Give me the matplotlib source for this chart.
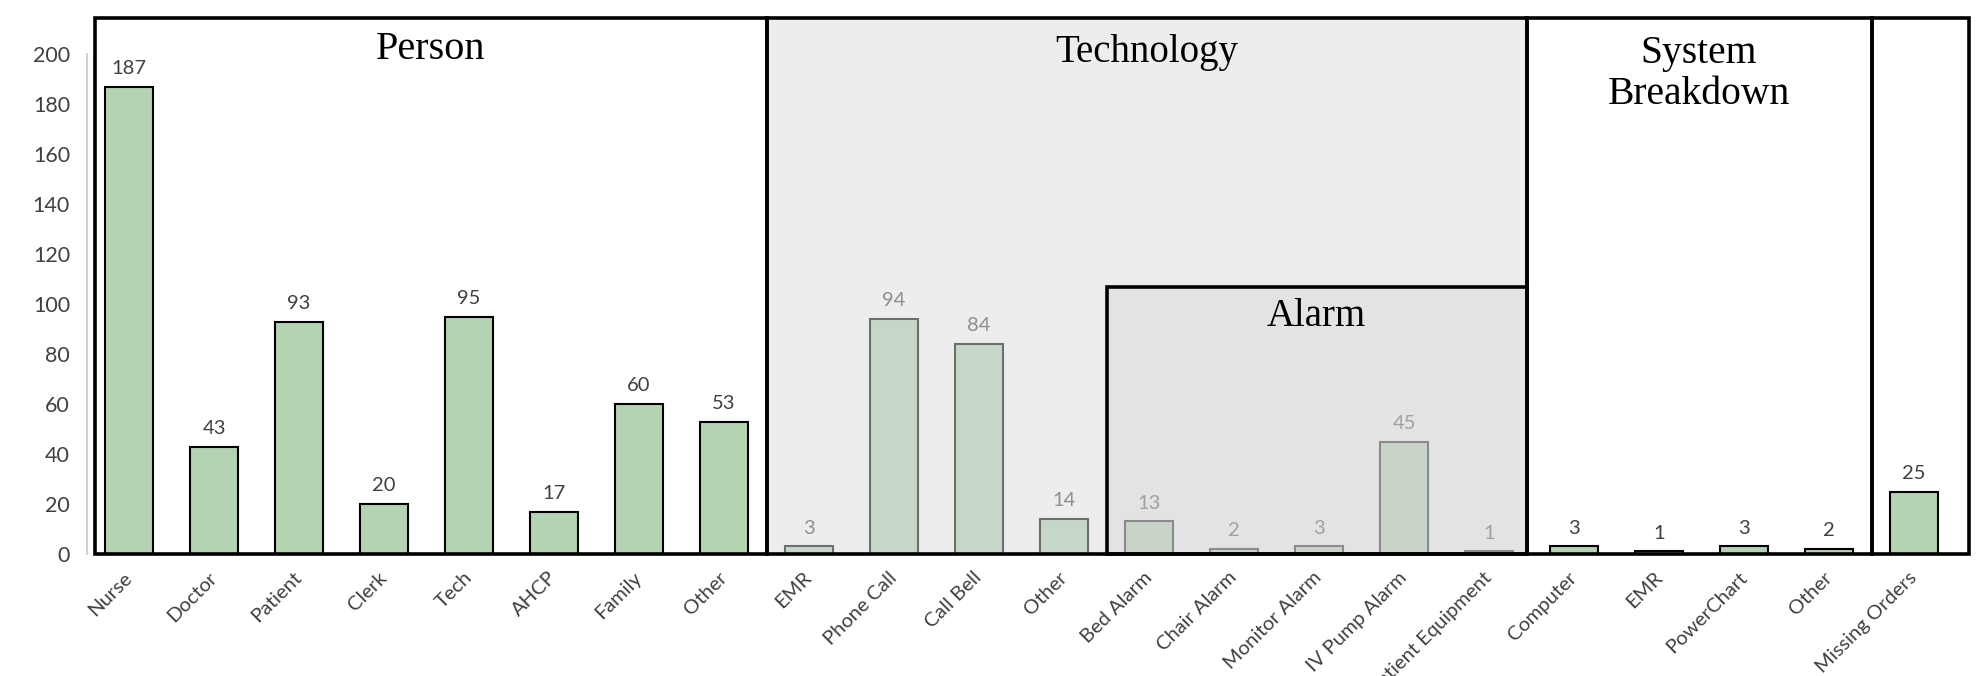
import matplotlib
matplotlib.use("Agg")
import matplotlib.pyplot as plt
from matplotlib.patches import Rectangle

# categories, grouped
person = ["Nurse", "Doctor", "Patient", "Clerk", "Tech", "AHCP", "Family", "Other"]
person_vals = [187, 43, 93, 20, 95, 17, 60, 53]
technology = ["EMR", "Phone Call", "Call Bell", "Other"]
technology_vals = [3, 94, 84, 14]
alarm = ["Bed Alarm", "Chair Alarm", "Monitor Alarm", "IV Pump Alarm", "Patient Equipment"]
alarm_vals = [13, 2, 3, 45, 1]
system = ["Computer", "EMR", "PowerChart", "Other"]
system_vals = [3, 1, 3, 2]
missing = ["Missing Orders"]
missing_vals = [25]

labels = person + technology + alarm + system + missing
values = person_vals + technology_vals + alarm_vals + system_vals + missing_vals

SANS = ["Lato", "DejaVu Sans"]
SERIF = ["Liberation Serif", "DejaVu Serif"]
TXT = "#404040"

fig = plt.figure(figsize=(19.84, 6.76), dpi=100)
ax = fig.add_axes([0.04365, 0.1805, 0.9490, 0.7929])

x = list(range(len(values)))
ax.bar(x, values, width=0.57, color="#b3d3b3", edgecolor="black", linewidth=1.5, zorder=2)
for xi, v in zip(x, values):
    ax.annotate(f"{v}", (xi, v), xytext=(0, 7), textcoords="offset points",
                ha="center", va="bottom", fontsize=14.5, color=TXT,
                family=SANS, zorder=2.5)

ax.set_xlim(-0.5, 21.65)
ax.set_ylim(0, 214.5)
ax.set_yticks(range(0, 201, 20))
ax.tick_params(axis="y", length=0, labelsize=15.5, labelcolor=TXT, pad=12)
ax.tick_params(axis="x", length=0, pad=15)
ax.set_xticks(x)
ax.set_xticklabels(labels, rotation=45, ha="right", va="center",
                   rotation_mode="anchor", fontsize=14.5, color=TXT)
for t in ax.get_xticklabels() + ax.get_yticklabels():
    t.set_family(SANS)

for s in ["top", "right", "bottom"]:
    ax.spines[s].set_visible(False)
ax.spines["left"].set_bounds(0, 200)
ax.spines["left"].set_color("#d0d0d0")
ax.spines["left"].set_linewidth(1.5)

# shaded group overlays (wash out bars beneath)
ax.add_patch(Rectangle((7.5, 0), 8.95, 214.5, facecolor="#dcdcdc", alpha=0.5,
                       edgecolor="none", zorder=3))
ax.add_patch(Rectangle((11.5, 0), 4.95, 107, facecolor="#cdcdcd", alpha=0.3,
                       edgecolor="none", zorder=3.1))

# group frames
boxes = [(-0.4, 7.9, 214.5), (7.5, 8.95, 214.5), (11.5, 4.95, 107),
         (16.45, 4.05, 214.5), (20.5, 1.15, 214.5)]
for x0, w, h in boxes:
    ax.add_patch(Rectangle((x0, 0), w, h, facecolor="none", edgecolor="black",
                           linewidth=2.6, zorder=4, clip_on=False))

titles = [("Person", 3.55, 202, 29), ("Technology", 11.97, 200.5, 28),
          ("Alarm", 13.97, 95, 28), ("System\nBreakdown", 18.47, 192, 28.5)]
for txt, tx, ty, fs in titles:
    ax.text(tx, ty, txt, ha="center", va="center", fontsize=fs,
            family=SERIF, color="black", linespacing=1.15, zorder=5)

fig.savefig("out.png", dpi=100)
